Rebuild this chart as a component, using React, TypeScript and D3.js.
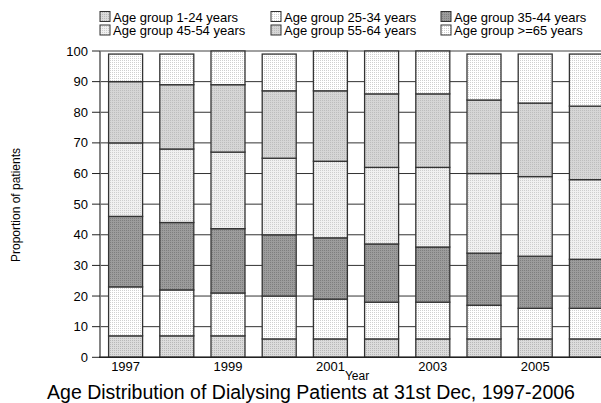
import React from "react";
import * as d3 from "d3";

const years = ["1997","1998","1999","2000","2001","2002","2003","2004","2005","2006"];
const tickYears = ["1997","1999","2001","2003","2005"];
const seriesNames = [
  "Age group 1-24 years",
  "Age group 25-34 years",
  "Age group 35-44 years",
  "Age group 45-54 years",
  "Age group 55-64 years",
  "Age group >=65 years",
];
const age1_24 = [7, 7, 7, 6, 6, 6, 6, 6, 6, 6];
const age25_34 = [16, 15, 14, 14, 13, 12, 12, 11, 10, 10];
const age35_44 = [23, 22, 21, 20, 20, 19, 18, 17, 17, 16];
const age45_54 = [24, 24, 25, 25, 25, 25, 26, 26, 26, 26];
const age55_64 = [20, 21, 22, 22, 23, 24, 24, 24, 24, 24];
const age65 = [9, 10, 11, 12, 13, 14, 14, 15, 16, 17];
const yTicks = [0, 10, 20, 30, 40, 50, 60, 70, 80, 90, 100];

const seriesValues = [age1_24, age25_34, age35_44, age45_54, age55_64, age65];
const fills = [
  { bg: "#dcdcdc", dot: "#b8b8b8" },
  { bg: "#ffffff", dot: "#d0d0d0" },
  { bg: "#9c9c9c", dot: "#7e7e7e" },
  { bg: "#f0f0f0", dot: "#cdcdcd" },
  { bg: "#d6d6d6", dot: "#bdbdbd" },
  { bg: "#ffffff", dot: "#cfcfcf" },
];

const W = 601, H = 403;
const FONT = "'Liberation Sans', Arial, sans-serif";

export default function App() {
  const x = d3.scaleBand().domain(years).range([100, 612]).paddingInner(0.336).paddingOuter(0.168);
  const y = d3.scaleLinear().domain([0, 100]).range([357.3, 51]);

  const rows = years.map((yr, i) => {
    const r: any = { year: yr };
    seriesNames.forEach((s, k) => (r[s] = seriesValues[k][i]));
    return r;
  });
  const stacked = d3.stack().keys(seriesNames)(rows);

  const legendCols = [100, 271, 441];

  return (
    <svg width={W} height={H} style={{ position: "absolute", left: 0, top: 0, fontFamily: FONT }}>
      <defs>
        {fills.map((f, k) => (
          <pattern key={k} id={`pat${k}`} width={2} height={2} patternUnits="userSpaceOnUse">
            <rect width={2} height={2} fill={f.bg} />
            <rect width={1} height={1} fill={f.dot} />
          </pattern>
        ))}
      </defs>
      <rect width={W} height={H} fill="#fff" />
      {yTicks.map((t) => (
        <line key={t} x1={100} x2={W} y1={y(t)} y2={y(t)}
          stroke={t === 100 ? "#808080" : "#333"} strokeWidth={t === 100 ? 1.6 : 1} />
      ))}
      {stacked.map((layer, k) => (
        <g key={k}>
          {layer.map((d, i) => (
            <rect key={i} x={x(years[i])} width={x.bandwidth()}
              y={y(d[1])} height={y(d[0]) - y(d[1])}
              fill={`url(#pat${k})`} stroke="#333" strokeWidth={1.3} />
          ))}
        </g>
      ))}
      <line x1={100} x2={100} y1={y(100)} y2={y(0)} stroke="#777" strokeWidth={1.8} />
      <line x1={99} x2={W} y1={y(0)} y2={y(0)} stroke="#222" strokeWidth={1.5} />
      {yTicks.map((t) => (
        <g key={t}>
          <line x1={92} x2={100} y1={y(t)} y2={y(t)} stroke="#222" strokeWidth={1} />
          <text x={88} y={y(t)} dy="0.35em" textAnchor="end" fontSize={13} fill="#000">{t}</text>
        </g>
      ))}
      {tickYears.map((t) => (
        <text key={t} x={(x(t) as number) + x.bandwidth() / 2} y={370.5} textAnchor="middle" fontSize={13} fill="#000">{t}</text>
      ))}
      <text x={357} y={379.5} textAnchor="middle" fontSize={12} fill="#000">Year</text>
      <text x={311} y={399} textAnchor="middle" fontSize={19.5} fill="#000">Age Distribution of Dialysing Patients at 31st Dec, 1997-2006</text>
      <text transform={`translate(20,205) rotate(-90)`} textAnchor="middle" fontSize={12} fill="#000">Proportion of patients</text>
      {seriesNames.map((s, k) => {
        const col = k % 3;
        const row = Math.floor(k / 3);
        const lx = legendCols[col];
        const ly = 11.5 + row * 13.5;
        return (
          <g key={s}>
            <rect x={lx} y={ly} width={10} height={10} fill={`url(#pat${k})`} stroke="#333" strokeWidth={1} />
            <text x={lx + 13} y={ly + 10} fontSize={13} fill="#000">{s}</text>
          </g>
        );
      })}
    </svg>
  );
}
